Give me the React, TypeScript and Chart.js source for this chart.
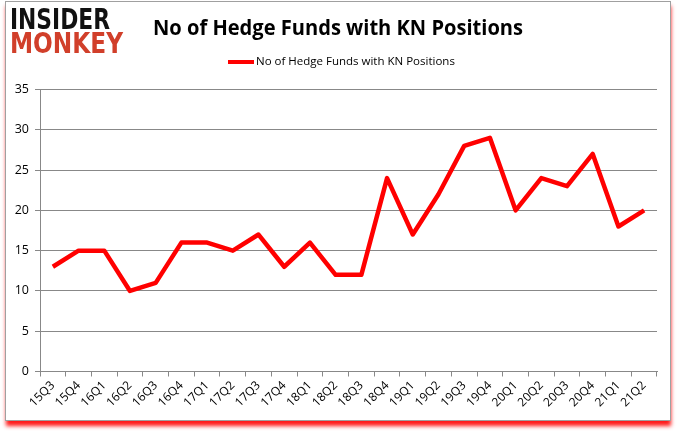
import { useEffect, useRef } from "react";
import { Chart, registerables } from "chart.js";

Chart.register(...registerables);

const quarters = [
  "15Q3", "15Q4", "16Q1", "16Q2", "16Q3", "16Q4", "17Q1", "17Q2",
  "17Q3", "17Q4", "18Q1", "18Q2", "18Q3", "18Q4", "19Q1", "19Q2",
  "19Q3", "19Q4", "20Q1", "20Q2", "20Q3", "20Q4", "21Q1", "21Q2",
];
const hedgeFunds = [
  13, 15, 15, 10, 11, 16, 16, 15, 17, 13, 16, 12,
  12, 24, 17, 22, 28, 29, 20, 24, 23, 27, 18, 20,
];
const seriesName = "No of Hedge Funds with KN Positions";
const titleText = "No of Hedge Funds with KN Positions";

const framePlugin = {
  id: "frame",
  beforeDraw(chart: Chart) {
    const ctx = chart.ctx;
    ctx.save();
    ctx.fillStyle = "#ffffff";
    ctx.fillRect(0, 0, chart.width, chart.height);
    // red shadow under the frame
    ctx.shadowColor = "rgba(255,0,0,0.9)";
    ctx.shadowBlur = 4;
    ctx.shadowOffsetX = 1;
    ctx.shadowOffsetY = 5;
    ctx.fillStyle = "#ffffff";
    ctx.fillRect(5, 1, 665, 420);
    ctx.shadowColor = "transparent";
    ctx.strokeStyle = "#a0a0a0";
    ctx.lineWidth = 1;
    ctx.strokeRect(5.5, 1.5, 665, 419);
    ctx.restore();
  },
  afterDraw(chart: Chart) {
    const ctx = chart.ctx;
    ctx.save();
    // logo
    ctx.textBaseline = "alphabetic";
    ctx.textAlign = "left";
    ctx.font = "900 28px 'DejaVu Sans'";
    ctx.fillStyle = "#111111";
    ctx.fillText("INSIDER", 10, 28.5, 100);
    ctx.fillStyle = "#d13f2a";
    ctx.fillText("MONKEY", 10, 53, 113);
    // title
    ctx.fillStyle = "#000000";
    ctx.font = "bold 21px 'Open Sans'";
    ctx.fillText(titleText, 153, 35, 370);
    // legend
    ctx.strokeStyle = "#ff0000";
    ctx.lineWidth = 4;
    ctx.beginPath();
    ctx.moveTo(228, 62);
    ctx.lineTo(254, 62);
    ctx.stroke();
    ctx.font = "11.5px 'Open Sans'";
    ctx.textBaseline = "middle";
    ctx.fillText(seriesName, 256, 62);
    ctx.restore();
  },
};

export default function App() {
  const canvasRef = useRef<HTMLCanvasElement>(null);
  const chartRef = useRef<Chart | null>(null);

  useEffect(() => {
    document.body.style.margin = "0";
    if (!canvasRef.current) return;
    const ctx = canvasRef.current.getContext("2d");
    if (!ctx) return;
    if (chartRef.current) chartRef.current.destroy();

    chartRef.current = new Chart(ctx, {
      type: "line",
      data: {
        labels: quarters,
        datasets: [
          {
            label: seriesName,
            data: hedgeFunds,
            borderColor: "#ff0000",
            backgroundColor: "#ff0000",
            borderWidth: 4.5,
            pointRadius: 0,
            tension: 0,
            borderJoinStyle: "round",
          },
        ],
      },
      options: {
        responsive: false,
        animation: false,
        layout: { padding: { left: 0, right: 21, top: 89.5, bottom: 0 } },
        plugins: {
          legend: { display: false },
          title: { display: false },
          tooltip: { enabled: false },
        },
        scales: {
          x: {
            offset: true,
            afterFit(scale: any) {
              scale.height = 59.5;
            },
            grid: {
              offset: true,
              drawOnChartArea: false,
              drawTicks: true,
              tickLength: 5,
              color: "#888888",
            },
            border: { color: "#888888", width: 1 },
            ticks: {
              autoSkip: false,
              maxRotation: 45,
              minRotation: 45,
              padding: 2,
              color: "#000000",
              font: { family: "'Open Sans'", size: 12 },
            },
          },
          y: {
            min: 0,
            max: 35,
            afterFit(scale: any) {
              scale.width = 40;
            },
            grid: {
              color: "#888888",
              tickLength: 5,
            },
            border: { color: "#888888", width: 1 },
            ticks: {
              stepSize: 5,
              padding: 6,
              color: "#000000",
              font: { family: "'Open Sans'", size: 12.5 },
            },
          },
        },
      },
      plugins: [framePlugin],
    });

    return () => {
      if (chartRef.current) {
        chartRef.current.destroy();
        chartRef.current = null;
      }
    };
  }, []);

  return (
    <div style={{ width: 678, height: 431 }}>
      <canvas ref={canvasRef} width={678} height={431} style={{ display: "block" }} />
    </div>
  );
}
